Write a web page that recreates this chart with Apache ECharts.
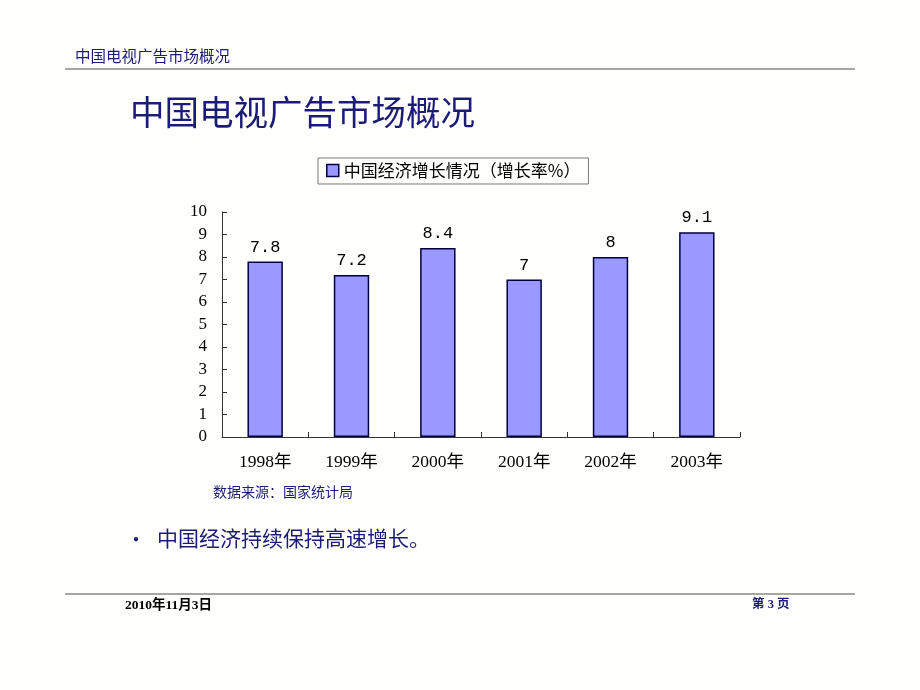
<!DOCTYPE html>
<html>
<head>
<meta charset="utf-8">
<script src="https://cdn.jsdelivr.net/npm/echarts@6/dist/echarts.min.js"></script>
<style>
html,body{margin:0;padding:0;background:#fffffd;}
#c{width:920px;height:690px;}
</style>
</head>
<body>
<div id="c"></div>
<script>
const categories = ['1998年','1999年','2000年','2001年','2002年','2003年'];
const growthRate = [7.8, 7.2, 8.4, 7, 8, 9.1];
const seriesName = '中国经济增长情况（增长率%）';
const yTicks = [0,1,2,3,4,5,6,7,8,9,10];

const navy = '#1b1b78';
const serif = '"Liberation Serif","Noto Sans CJK SC",serif';
const cjk = '"Noto Sans CJK SC","Liberation Serif",sans-serif';

const chart = echarts.init(document.getElementById('c'), null, {renderer:'canvas'});
chart.setOption({
  backgroundColor: '#fffffd',
  animation: false,
  legend: {
    top: 158, left: 318,
    padding: [4, 8, 5, 8],
    itemWidth: 12, itemHeight: 12,
    itemGap: 6,
    borderColor: '#777', borderWidth: 1,
    icon: 'rect',
    textStyle: {fontFamily: cjk, fontSize: 17, color: '#000'},
    data: [{name: seriesName, itemStyle: {color: '#9999ff', borderColor: '#000040', borderWidth: 1.5}}]
  },
  grid: {left: 222, top: 212, right: 180, bottom: 253, containLabel: false},
  xAxis: {
    type: 'category',
    data: categories,
    axisLine: {lineStyle: {color: '#333', width: 1}},
    axisTick: {show: true, inside: true, length: 5, lineStyle: {color: '#333'}},
    axisLabel: {fontFamily: serif, fontSize: 17.5, color: '#000', margin: 17}
  },
  yAxis: {
    type: 'value',
    min: yTicks[0], max: yTicks[yTicks.length-1], interval: 1,
    axisLine: {show: true, lineStyle: {color: '#333', width: 1}},
    axisTick: {show: true, inside: true, length: 5, lineStyle: {color: '#333'}},
    axisLabel: {fontFamily: serif, fontSize: 17, color: '#000', margin: 15},
    splitLine: {show: false}
  },
  series: [{
    name: seriesName,
    type: 'bar',
    data: growthRate,
    barWidth: '41%',
    itemStyle: {color: '#9999ff', borderColor: '#000040', borderWidth: 1.5},
    label: {show: true, position: 'top', distance: 6, fontFamily: '"Liberation Mono",monospace', fontSize: 17, color: '#000'}
  }],
  graphic: [
    {type: 'text', left: 75, top: 48, style: {text: '中国电视广告市场概况', font: '15.5px ' + cjk, fill: navy}},
    {type: 'line', shape: {x1: 65, y1: 69, x2: 855, y2: 69}, style: {stroke: '#888', lineWidth: 1.5}},
    {type: 'text', left: 130, top: 95, style: {text: '中国电视广告市场概况', font: '34.5px ' + cjk, fill: navy}},
    {type: 'text', left: 213, top: 485, style: {text: '数据来源：国家统计局', font: '14px ' + cjk, fill: navy}},
    {type: 'text', left: 126, top: 529, style: {text: '•', font: '20px ' + cjk, fill: navy}},
    {type: 'text', left: 157, top: 528, style: {text: '中国经济持续保持高速增长。', font: '21px ' + cjk, fill: navy}},
    {type: 'line', shape: {x1: 65, y1: 594, x2: 855, y2: 594}, style: {stroke: '#888', lineWidth: 1.5}},
    {type: 'text', left: 125, top: 599, style: {text: '2010年11月3日', font: 'bold 13.5px ' + serif, fill: '#000'}},
    {type: 'text', left: 752, top: 599, style: {text: '第 3 页', font: 'bold 12.5px ' + serif, fill: navy}}
  ]
});
</script>
</body>
</html>
